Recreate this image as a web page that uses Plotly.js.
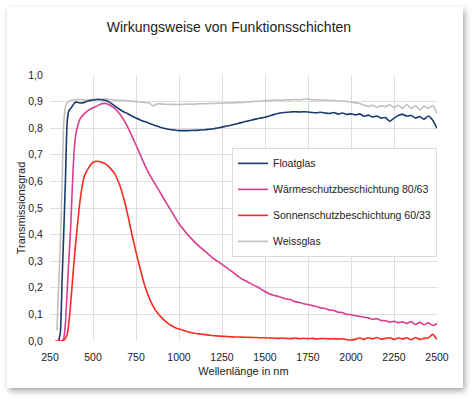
<!DOCTYPE html>
<html>
<head>
<meta charset="utf-8">
<script src="https://cdn.plot.ly/plotly-3.0.1.min.js"></script>
<style>
  body { margin: 0; background: #ffffff; }
  #card {
    position: absolute; left: 7px; top: 7px; width: 456px; height: 381px;
    background: #ffffff; box-shadow: 2px 3px 6px rgba(0, 0, 0, 0.35);
  }
  #chart { position: absolute; left: 0; top: 0; width: 475px; height: 400px; }
</style>
</head>
<body>
<div id="card"></div>
<div id="chart"></div>
<script>
// wavelength in nm
const wellenlaenge = [
  280, 290, 300, 310, 320, 330, 340, 350, 360, 370, 380, 390, 400,
  425, 450, 475, 500, 525, 550, 575, 600, 625, 650, 675, 700, 725, 750, 775, 800,
  825, 850, 875, 900, 925, 950, 975, 1000, 1025, 1050, 1075, 1100, 1125, 1150, 1175, 1200,
  1225, 1250, 1275, 1300, 1325, 1350, 1375, 1400, 1425, 1450, 1475, 1500,
  1525, 1550, 1575, 1600, 1625, 1650, 1675, 1700, 1725, 1750, 1775, 1800, 1825, 1850,
  1875, 1900, 1925, 1950, 1975, 2000, 2025, 2050, 2075, 2100, 2125, 2150, 2175, 2200,
  2225, 2250, 2275, 2300, 2325, 2350, 2375, 2400, 2425, 2450, 2475, 2500
]

const floatglas = [
  null, null, 0.0, 0.03, 0.22, 0.41, 0.61, 0.825, 0.866, 0.874, 0.883, 0.893, 0.898,
  0.895, 0.897, 0.903, 0.906, 0.908, 0.907, 0.904, 0.896, 0.884, 0.873, 0.863, 0.855, 0.846, 0.838, 0.831, 0.825,
  0.819, 0.813, 0.807, 0.802, 0.798, 0.795, 0.793, 0.791, 0.791, 0.791, 0.792, 0.792, 0.793, 0.794, 0.796, 0.798,
  0.801, 0.804, 0.808, 0.811, 0.815, 0.819, 0.823, 0.827, 0.831, 0.835, 0.838, 0.841,
  0.846, 0.851, 0.855, 0.858, 0.860, 0.861, 0.862, 0.861, 0.862, 0.861, 0.859, 0.858, 0.860, 0.857,
  0.855, 0.859, 0.853, 0.857, 0.852, 0.854, 0.850, 0.854, 0.845, 0.849, 0.842, 0.846, 0.838, 0.840,
  0.826, 0.838, 0.848, 0.852, 0.845, 0.848, 0.838, 0.844, 0.834, 0.846, 0.830, 0.800
]

const waermeschutz = [
  null, null, null, 0.0, 0.0, 0.01, 0.07, 0.19, 0.31, 0.425, 0.58, 0.71, 0.775,
  0.835, 0.855, 0.868, 0.877, 0.884, 0.892, 0.893, 0.886, 0.875, 0.858, 0.835, 0.807, 0.772, 0.737, 0.700, 0.663,
  0.630, 0.602, 0.575, 0.548, 0.520, 0.494, 0.467, 0.441, 0.420, 0.400, 0.383, 0.366, 0.352, 0.338, 0.324, 0.311,
  0.299, 0.288, 0.277, 0.265, 0.252, 0.240, 0.230, 0.222, 0.213, 0.205, 0.196, 0.186,
  0.178, 0.172, 0.168, 0.163, 0.158, 0.155, 0.148, 0.145, 0.140, 0.137, 0.133, 0.130, 0.124, 0.122,
  0.116, 0.115, 0.108, 0.107, 0.100, 0.099, 0.095, 0.093, 0.089, 0.087, 0.082, 0.084, 0.077, 0.076,
  0.071, 0.074, 0.069, 0.072, 0.066, 0.073, 0.062, 0.070, 0.061, 0.068, 0.058, 0.066
]

const sonnenschutz = [
  0.0, 0.0, 0.0, 0.0, 0.0, 0.003, 0.01, 0.025, 0.07, 0.14, 0.22, 0.30, 0.37,
  0.53, 0.62, 0.652, 0.672, 0.676, 0.672, 0.665, 0.650, 0.630, 0.595, 0.545, 0.480, 0.405, 0.335, 0.270, 0.210,
  0.165, 0.130, 0.105, 0.087, 0.072, 0.060, 0.051, 0.045, 0.040, 0.035, 0.031, 0.028, 0.026, 0.024, 0.022, 0.020,
  0.019, 0.018, 0.017, 0.016, 0.015, 0.015, 0.014, 0.014, 0.013, 0.013, 0.012, 0.012,
  0.011, 0.011, 0.010, 0.011, 0.010, 0.009, 0.011, 0.009, 0.010, 0.009, 0.010, 0.008, 0.009, 0.009,
  0.008, 0.009, 0.007, 0.008, 0.005, 0.004, 0.006, 0.011, 0.006, 0.012, 0.008, 0.013, 0.007, 0.010,
  0.012, 0.006, 0.011, 0.008, 0.012, 0.005, 0.013, 0.006, 0.010, 0.012, 0.025, 0.006
]

const weissglas = [
  null, 0.04, 0.20, 0.36, 0.58, 0.82, 0.88, 0.895, 0.900, 0.904, 0.906, 0.907, 0.907,
  0.908, 0.906, 0.907, 0.908, 0.909, 0.909, 0.910, 0.908, 0.906, 0.905, 0.904, 0.903, 0.902, 0.900, 0.899, 0.897,
  0.895, 0.884, 0.892, 0.891, 0.890, 0.890, 0.889, 0.889, 0.890, 0.891, 0.890, 0.891, 0.892, 0.892, 0.893, 0.893,
  0.894, 0.894, 0.895, 0.895, 0.896, 0.897, 0.897, 0.899, 0.900, 0.901, 0.902, 0.903,
  0.904, 0.905, 0.906, 0.905, 0.907, 0.906, 0.908, 0.907, 0.909, 0.910, 0.906, 0.907, 0.905, 0.906,
  0.904, 0.905, 0.902, 0.903, 0.900, 0.899, 0.895, 0.893, 0.887, 0.882, 0.886, 0.879, 0.884, 0.881,
  0.888, 0.878, 0.886, 0.875, 0.889, 0.874, 0.885, 0.869, 0.882, 0.875, 0.885, 0.855
]

const serien = [
  { name: 'Floatglas', y: floatglas, color: '#1b3a6e' },
  { name: 'Wärmeschutzbeschichtung 80/63', y: waermeschutz, color: '#d93d8f' },
  { name: 'Sonnenschutzbeschichtung 60/33', y: sonnenschutz, color: '#fa2a1c' },
  { name: 'Weissglas', y: weissglas, color: '#c4bfbf' },
]

// gray line sits underneath the others in the picture
const data = serien.map((s, i) => ({
  x: wellenlaenge,
  y: s.y,
  name: s.name,
  type: 'scatter',
  mode: 'lines',
  legendgroup: 'g' + i,
  legendrank: i,
  line: { color: s.color, width: 1.6, shape: 'spline', smoothing: 0.6 },
  connectgaps: false,
}))
data.unshift(data.pop())

const font = 'Liberation Sans, Arial, sans-serif'

const layout = {
  width: 475,
  height: 400,
  paper_bgcolor: 'rgba(0,0,0,0)',
  plot_bgcolor: 'rgba(0,0,0,0)',
  margin: { l: 50, r: 38, t: 75, b: 59 },
  separators: ',.',
  font: { family: font, size: 11, color: '#222' },
  title: {
    text: 'Wirkungsweise von Funktionsschichten',
    font: { family: font, size: 14, color: '#222' },
    x: 0.482, xref: 'container', xanchor: 'center',
    y: 0.932, yref: 'container', yanchor: 'middle',
  },
  xaxis: {
    range: [250, 2500],
    dtick: 250,
    tick0: 250,
    tickformat: 'd',
    gridcolor: '#dedede',
    showline: false,
    zeroline: false,
    ticks: 'outside',
    ticklen: 6,
    tickcolor: 'rgba(0,0,0,0)',
    tickfont: { size: 10.5, color: '#222' },
    title: { text: 'Wellenlänge in nm', font: { size: 11, color: '#222' }, standoff: 5 },
  },
  yaxis: {
    range: [0, 1],
    dtick: 0.1,
    tickformat: '.1f',
    gridcolor: '#dedede',
    showline: false,
    zeroline: false,
    ticks: 'outside',
    ticklen: 4,
    tickcolor: 'rgba(0,0,0,0)',
    tickfont: { size: 10.5, color: '#222' },
    title: { text: 'Transmissionsgrad', font: { size: 11, color: '#222' }, standoff: 0 },
  },
  showlegend: true,
  legend: {
    x: 1, xanchor: 'right',
    y: 0.726, yanchor: 'top',
    bgcolor: '#ffffff',
    bordercolor: '#dcdcdc',
    borderwidth: 1,
    traceorder: 'grouped',
    tracegroupgap: 7,
    itemwidth: 30,
    font: { size: 10.5, color: '#222' },
  },
}

Plotly.newPlot('chart', data, layout, { displayModeBar: false, staticPlot: true })
</script>
</body>
</html>
